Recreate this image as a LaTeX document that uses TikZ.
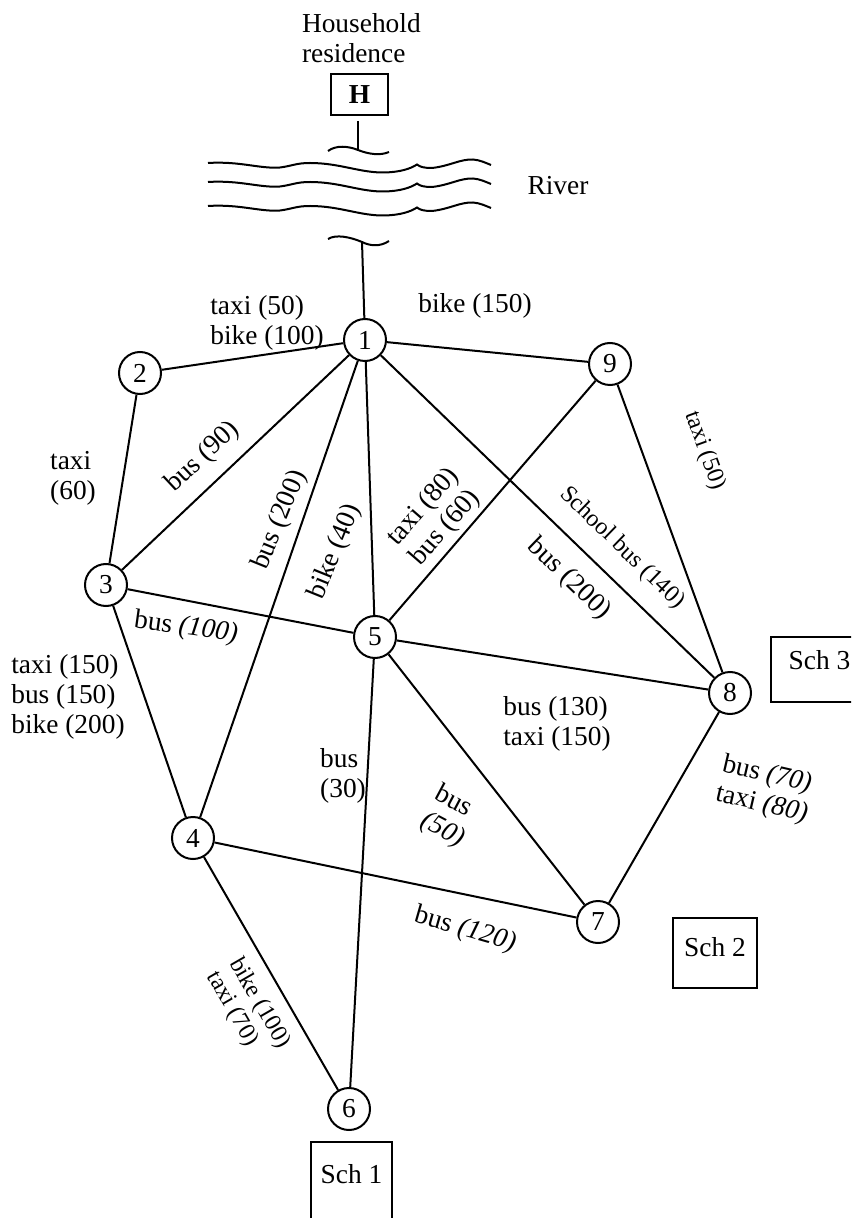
\documentclass[tikz,border=0pt]{standalone}
\usepackage{fontspec}
\setmainfont{Liberation Serif}
\tikzset{
    stopcircle/.style={circle, draw, minimum size=21pt, inner sep=0pt},
    school/.style={draw, anchor=north, inner sep=0pt, text height=9.4pt},
    lbl/.style={align=left, inner sep=0pt},
    smalltxt/.style={font=\fontsize{12}{13}\selectfont},
}
\begin{document}
\begin{tikzpicture}[x=0.5pt, y=-0.5pt, line width=1pt, font=\fontsize{13.7}{15}\selectfont]
    \useasboundingbox (0,0) rectangle (851,1218);
    \clip (0,0) rectangle (851,1218);
    % household and river
    \node[lbl, anchor=north west] (hhtext) at (301,12) {Household\\residence};
    \node[draw, minimum width=28.5pt, minimum height=20.5pt, inner sep=0pt] (H) at (359.5,94.5) {\textbf{H}};
    \node (river) at (558,186) {River};
    \coordinate (ht) at (358,121);
    \coordinate (hw) at (358,150);
    \draw (ht) -- (hw);
    \draw (328,151) .. controls (336,145) and (348,146) .. (hw) .. controls (368,154) and (380,156) .. (389,152);
    \foreach \y in {163,182,206}
        \draw[shift={(0,\y)}] (208,0) .. controls (240,-2) and (260,6) .. (280,4.5)
            .. controls (292,3) and (296,0) .. (310,0) .. controls (340,0) and (360,10) .. (385,9.5)
            .. controls (400,9) and (410,6) .. (417,1.5) .. controls (420,4) and (424,5) .. (432,5)
            .. controls (450,3) and (460,-4) .. (473,-3.5) .. controls (480,-3) and (486,0) .. (491,2);
    \coordinate (rb) at (362,242);
    \draw (328,239) .. controls (336,234) and (350,237) .. (rb) .. controls (370,246) and (380,247) .. (389,241);

    % stops
    \node[stopcircle] (n1) at (365,340) {1};
    \node[stopcircle] (n2) at (140,373) {2};
    \node[stopcircle] (n3) at (106,585) {3};
    \node[stopcircle] (n4) at (193,838) {4};
    \node[stopcircle] (n5) at (375,637) {5};
    \node[stopcircle] (n6) at (349,1109) {6};
    \node[stopcircle] (n7) at (598,922) {7};
    \node[stopcircle] (n8) at (730,693) {8};
    \node[stopcircle] (n9) at (610,364) {9};
    \draw (rb) -- (n1);

    % schools
    \node[school, minimum width=48.5pt, minimum height=32.5pt, text depth=9.9pt] (sch3) at (819.5,636) {Sch 3};
    \node[school, minimum width=42pt, minimum height=35pt, text depth=6.4pt] (sch2) at (715,917) {Sch 2};
    \node[school, minimum width=40.5pt, minimum height=50pt, text depth=18.4pt] (sch1) at (351.5,1141) {Sch 1};

    % links
    \foreach \a/\b in {1/2,1/3,1/4,1/5,1/8,1/9,2/3,3/4,3/5,4/6,4/7,5/6,5/7,5/8,5/9,7/8,8/9}
        \draw (n\a) -- (n\b);

    % modes and costs
    \node[lbl] (l12) at (267,323) {taxi (50)\\bike (100)};
    \node[lbl] (l19) at (475,306) {bike (150)};
    \node[lbl] (l23) at (73,478) {taxi\\(60)};
    \node[lbl, rotate=43] (l13) at (203,457) {bus (90)};
    \node[lbl, rotate=68] (l14) at (280,520) {bus (200)};
    \node[lbl, rotate=68] (l15) at (335,552) {bike (40)};
    \node[lbl, rotate=49] (l59) at (435,517) {taxi (80)\\bus (60)};
    \node[lbl, smalltxt, rotate=-44] (l18) at (622,548) {School bus (140)};
    \node[lbl, rotate=-44] (l18b) at (569,579) {bus (200)};
    \node[lbl, smalltxt, rotate=-70] (l89) at (705,451) {taxi (50)};
    \node[lbl, rotate=-8] (l35) at (186,628) {bus \textit{(100)}};
    \node[lbl] (l34) at (68,697) {taxi (150)\\bus (150)\\bike (200)};
    \node[lbl] (l58) at (557,724) {bus (130)\\taxi (150)};
    \node[lbl] (l56) at (343,776) {bus\\(30)};
    \node[lbl, rotate=-28] (l57) at (450,817) {bus\\\textit{(50)}};
    \node[lbl, rotate=-16] (l47) at (465,930) {bus \textit{(120)}};
    \node[lbl, rotate=-13] (l78) at (765,790) {bus \textit{(70)}\\taxi \textit{(80)}};
    \node[lbl, smalltxt, rotate=-60] (l46) at (248,1010) {bike (100)\\taxi (70)};
\end{tikzpicture}
\end{document}
